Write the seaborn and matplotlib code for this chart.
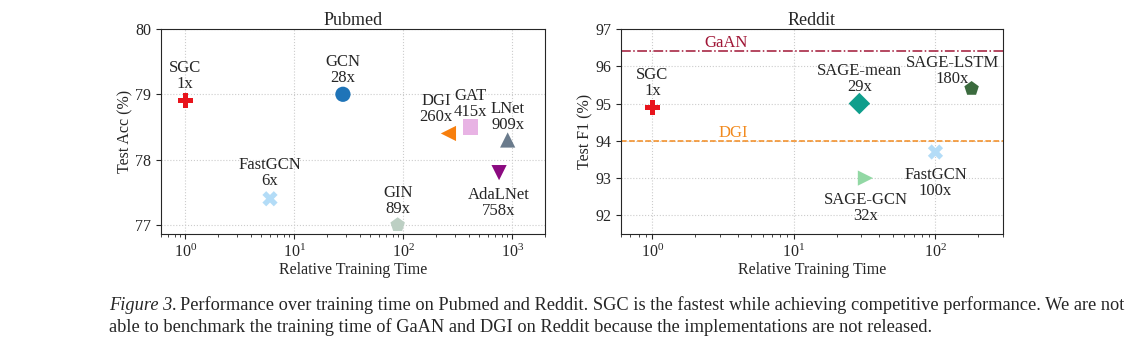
import matplotlib
matplotlib.use("Agg")
from matplotlib import pyplot as plt
import seaborn as sns
import pandas as pd

# Pubmed data
pub_names = ['SGC', 'GCN', 'DGI', 'GAT', 'LNet', 'AdaLNet', 'FastGCN', 'GIN']
pub_time = [1, 28, 260, 415, 909, 758, 6, 89]
pub_acc = [78.9, 79.0, 78.4, 78.5, 78.3, 77.8, 77.4, 77.0]
pub_markers = ['P', 'o', '<', 's', '^', 'v', 'X', 'p']
pub_colors = ['#e8141c', '#1f74b8', '#f77f0e', '#e8b3e4', '#6a7b8c', '#8b0a80', '#b3dcf7', '#bccfc3']

# Reddit data
red_names = ['SGC', 'SAGE-mean', 'SAGE-LSTM', 'SAGE-GCN', 'FastGCN']
red_time = [1, 29, 180, 32, 100]
red_f1 = [94.9, 95.0, 95.4, 93.0, 93.7]
red_markers = ['P', 'D', 'p', '>', 'X']
red_colors = ['#e8141c', '#0f9e8c', '#3b6b3e', '#92d8a4', '#b3dcf7']
red_lines = {'GaAN': 96.4, 'DGI': 94.0}

sns.set_style('ticks')
plt.rcParams['font.family'] = ['Liberation Serif', 'DejaVu Serif']
plt.rcParams['mathtext.fontset'] = 'stix'

FS = 12

fig = plt.figure(figsize=(11.34, 3.59), dpi=100)
ax1 = fig.add_axes([161 / 1134, 1 - 234 / 359, 384 / 1134, 205 / 359])
ax2 = fig.add_axes([621 / 1134, 1 - 234 / 359, 382 / 1134, 205 / 359])

def draw_panel(ax, names, times, vals, markers, colors):
    df = pd.DataFrame({'name': names, 'time': times, 'val': vals})
    sns.scatterplot(data=df, x='time', y='val', hue='name', style='name',
                    markers=dict(zip(names, markers)),
                    palette=dict(zip(names, colors)),
                    s=120, edgecolor='none', legend=False, ax=ax, zorder=3)
    ax.set_xscale('log')
    ax.grid(True, which='major', linestyle=':', color='#cccccc', linewidth=0.8)
    ax.tick_params(labelsize=11.5)
    for sp in ax.spines.values():
        sp.set_linewidth(0.8)

draw_panel(ax1, pub_names, pub_time, pub_acc, pub_markers, pub_colors)
ax1.set_xlim(0.6, 2000)
ax1.set_ylim(76.86, 80)
ax1.set_yticks([77, 78, 79, 80])
ax1.set_title('Pubmed', fontsize=13, pad=2)
ax1.set_xlabel('Relative Training Time', fontsize=11.5, labelpad=1)
ax1.set_ylabel('Test Acc (%)', fontsize=11.5, labelpad=1)

# label offsets (points): dx, dy, va
pub_offsets = {'SGC': (0, 6, 'bottom'), 'GCN': (0, 6, 'bottom'), 'DGI': (-9, 6, 'bottom'),
               'GAT': (0, 5, 'bottom'), 'LNet': (0, 5, 'bottom'), 'AdaLNet': (0, -10, 'top'),
               'FastGCN': (0, 7, 'bottom'), 'GIN': (0, 6, 'bottom')}
for n, t, v in zip(pub_names, pub_time, pub_acc):
    dx, dy, va = pub_offsets[n]
    ax1.annotate(f'{n}\n{t}x', (t, v), xytext=(dx, dy), textcoords='offset points',
                 ha='center', va=va, fontsize=FS, linespacing=1.0)

draw_panel(ax2, red_names, red_time, red_f1, red_markers, red_colors)
ax2.axhline(red_lines['GaAN'], color='#a01636', linestyle='-.', linewidth=1.1, zorder=2)
ax2.axhline(red_lines['DGI'], color='#f28a1e', linestyle='--', linewidth=1.1, zorder=2)
ax2.text(3.3, red_lines['GaAN'], 'GaAN', color='#a01636', fontsize=FS, va='bottom', ha='center')
ax2.text(3.7, red_lines['DGI'], 'DGI', color='#f28a1e', fontsize=FS, va='bottom', ha='center')
ax2.set_xlim(0.6, 300)
ax2.set_ylim(91.5, 97)
ax2.set_yticks([92, 93, 94, 95, 96, 97])
ax2.set_title('Reddit', fontsize=13, pad=2)
ax2.set_xlabel('Relative Training Time', fontsize=11.5, labelpad=1)
ax2.set_ylabel('Test F1 (%)', fontsize=11.5, labelpad=1)

red_offsets = {'SGC': (0, 6, 'bottom'), 'SAGE-mean': (0, 6, 'bottom'),
               'SAGE-LSTM': (-14, 1, 'bottom'), 'SAGE-GCN': (0, -10, 'top'),
               'FastGCN': (0, -11, 'top')}
for n, t, v in zip(red_names, red_time, red_f1):
    dx, dy, va = red_offsets[n]
    ax2.annotate(f'{n}\n{t}x', (t, v), xytext=(dx, dy), textcoords='offset points',
                 ha='center', va=va, fontsize=FS, linespacing=1.0)

# caption
cap_fs = 13.2
cap_y1 = 1 - 310 / 359
cap_y2 = 1 - 332 / 359
t0 = fig.text(109 / 1134, cap_y1, 'Figure 3.', fontsize=cap_fs, style='italic',
              ha='left', va='baseline')
fig.canvas.draw()
bb = t0.get_window_extent()
fig.text((bb.x1 + 3) / 1134, cap_y1,
         'Performance over training time on Pubmed and Reddit. '
         'SGC is the fastest while achieving competitive performance. We are not',
         fontsize=cap_fs, ha='left', va='baseline')
fig.text(109 / 1134, cap_y2,
         'able to benchmark the training time of GaAN and DGI on Reddit because the '
         'implementations are not released.',
         fontsize=cap_fs, ha='left', va='baseline')

plt.savefig('out.png', dpi=100)
